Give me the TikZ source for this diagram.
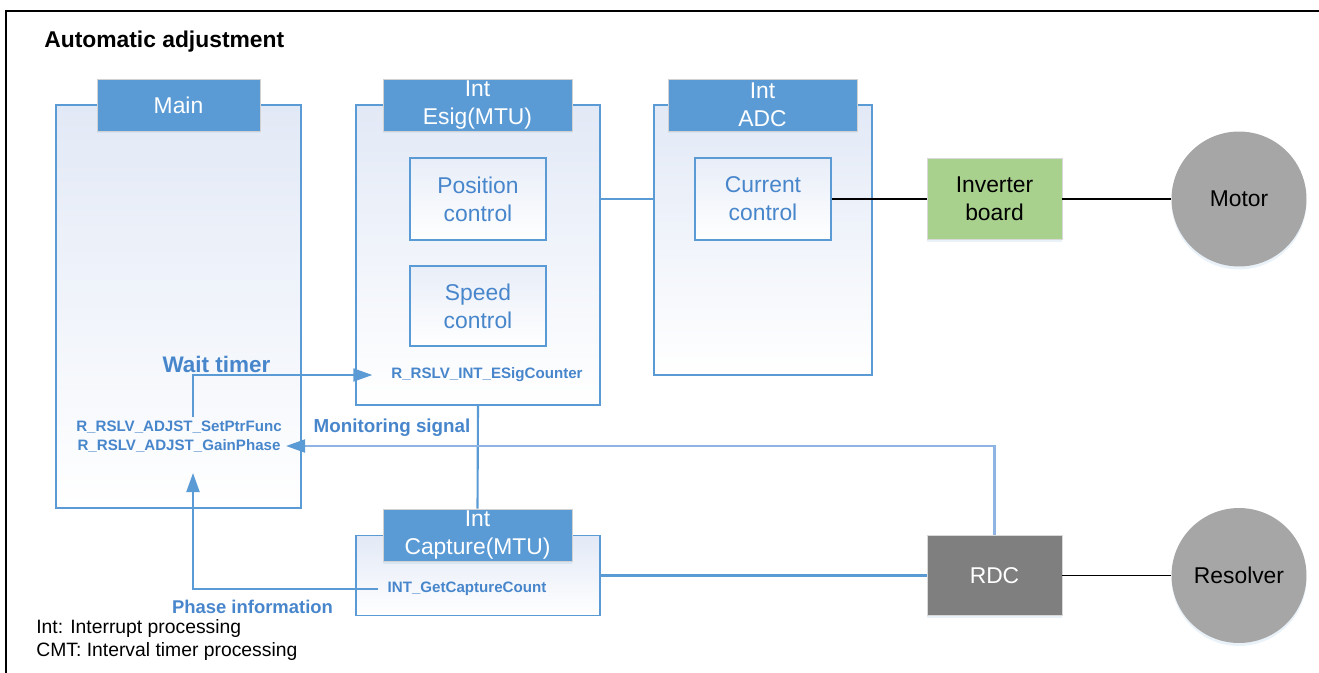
\documentclass[tikz,border=0pt]{standalone}
\usepackage{fontspec}
\setmainfont{Liberation Sans}
\usetikzlibrary{arrows.meta, positioning, shapes, shadows}

\definecolor{hdrblue}{RGB}{91,155,213}
\definecolor{txtblue}{RGB}{72,134,204}
\definecolor{lightline}{RGB}{141,180,226}
\definecolor{boxtop}{RGB}{226,233,246}
\definecolor{invgreen}{RGB}{169,209,142}
\definecolor{devgray}{RGB}{166,166,166}
\definecolor{rdcgray}{RGB}{127,127,127}

\newcommand{\hdrfont}{\fontsize{13}{16}\selectfont}
\newcommand{\fnfont}{\fontsize{8.6}{10.5}\selectfont\bfseries}

\begin{document}
\begin{tikzpicture}[x=0.02cm, y=-0.02cm,
    panel/.style={draw=hdrblue, line width=0.7pt, top color=boxtop, bottom color=white, inner sep=0pt},
    header/.style={draw=black!18, fill=hdrblue, text=white, font=\hdrfont, align=center,
        minimum width=3.78cm, minimum height=1.04cm, inner sep=0pt,
        drop shadow={shadow xshift=0cm, shadow yshift=-0.05cm, fill=hdrblue!35, opacity=0.5}},
    ctrl/.style={draw=hdrblue, line width=0.8pt, top color=boxtop!80, bottom color=white,
        text=txtblue, font=\hdrfont, align=center, minimum width=2.72cm, minimum height=1.64cm},
    hw/.style={draw=black!15, font=\hdrfont, align=center, minimum width=2.7cm, minimum height=1.62cm,
        drop shadow={shadow xshift=0cm, shadow yshift=-0.06cm, fill=hdrblue!25, opacity=0.5}},
    dev/.style={circle, fill=devgray, font=\hdrfont, minimum size=2.7cm, inner sep=0pt,
        drop shadow={shadow xshift=0cm, shadow yshift=-0.06cm, fill=hdrblue!25, opacity=0.5}},
    fn/.style={text=txtblue, font=\fnfont, inner sep=1pt},
    link/.style={draw=hdrblue, line width=1.2pt},
    wire/.style={draw=black, line width=0.6pt},
    arr/.style={link, -{Triangle[length=0.38cm, width=0.26cm, color=hdrblue]}}]

    \useasboundingbox (0,0) rectangle (1319,673);

    % ============================================================
    % FRAME AND TITLE
    % ============================================================
    \draw[line width=1.5pt] (6,673) -- (6,11) -- (1319,11);
    \node[anchor=west, inner sep=0pt, font=\fontsize{13}{15}\selectfont\bfseries]
        (title) at (44,42) {Automatic adjustment};

    % ============================================================
    % MAIN
    % ============================================================
    \node[panel, minimum width=4.9cm, minimum height=8.06cm] (main) at (178.5,306.5) {};
    \node[header, minimum width=3.26cm] (mainhead) at (178.5,105) {Main};
    \node[fn] (setptr) at (179,427) {R\_RSLV\_ADJST\_SetPtrFunc};
    \node[fn, inner sep=3pt] (gain) at (179,446) {R\_RSLV\_ADJST\_GainPhase};

    % ============================================================
    % INT ESIG(MTU)
    % ============================================================
    \node[panel, minimum width=4.88cm, minimum height=6cm] (esig) at (478,255) {};
    \node[header] (esighead) at (477.5,105) {Int\\Esig(MTU)};
    \node[ctrl] (pos) at (478,199) {Position\\control};
    \node[ctrl, minimum height=1.6cm] (spd) at (478,306) {Speed\\control};
    \node[fn] (esigcnt) at (487,375) {R\_RSLV\_INT\_ESigCounter};

    % ============================================================
    % INT ADC
    % ============================================================
    \node[panel, minimum width=4.36cm, minimum height=5.4cm] (adc) at (763,240) {};
    \node[header] (adchead) at (762.5,105) {Int\\ADC};
    \node[ctrl] (cur) at (763,199) {Current\\control};

    % ============================================================
    % INT CAPTURE(MTU)
    % ============================================================
    \node[panel, minimum width=4.88cm, minimum height=1.6cm] (cap) at (478,575.5) {};
    \node[header] (caphead) at (477.5,535) {Int\\Capture(MTU)};
    \node[fn] (capcnt) at (467,589) {INT\_GetCaptureCount};

    % ============================================================
    % HARDWARE
    % ============================================================
    \node[hw, fill=invgreen] (inv) at (994.5,199) {Inverter\\board};
    \node[dev] (motor) at (1239,199) {Motor};
    \node[hw, fill=rdcgray, text=white, minimum height=1.6cm] (rdc) at (994.5,575.5) {RDC};
    \node[dev] (resolver) at (1239,575.5) {Resolver};

    % ============================================================
    % CONNECTIONS
    % ============================================================
    \draw[link] (esig.east |- pos) -- (adc.west |- pos);
    \draw[wire] (cur) -- (inv);
    \draw[wire] (inv) -- (motor);
    \draw[wire] (rdc) -- (resolver);
    \draw[link] (cap) -- (rdc);
    \draw[link] (esig.south) -- (caphead.north);

    % Monitoring signal
    \draw[arr, draw=lightline] (rdc.north) |- (gain.east);
    \node[fn, font=\fontsize{10.7}{13}\selectfont\bfseries] (monlbl) at (392,428) {Monitoring signal};

    % Wait timer
    \coordinate (waitbase) at (193,417);
    \draw[arr, shorten >=0.34cm] (waitbase) |- (esigcnt.west);
    \node[fn, font=\fontsize{12.8}{15}\selectfont\bfseries] (waitlbl) at (216.5,364) {Wait timer};

    % Phase information
    \coordinate (phasetip) at (193,473);
    \draw[arr, shorten <=0.15cm] (capcnt.west) -| (phasetip);
    \node[fn, font=\fontsize{10.5}{13}\selectfont\bfseries] (phaselbl) at (252.5,607) {Phase information};

    % Legend
    \node[anchor=west, inner sep=0pt, font=\fontsize{11}{13}\selectfont] (leg1) at (36,628) {Int: Interrupt processing};
    \node[anchor=west, inner sep=0pt, font=\fontsize{11}{13}\selectfont] (leg2) at (36,651) {CMT: Interval timer processing};

\end{tikzpicture}
\end{document}
